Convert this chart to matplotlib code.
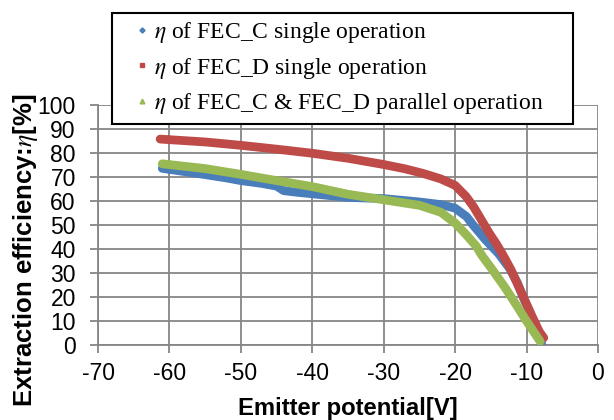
import matplotlib
matplotlib.use("Agg")
import matplotlib.pyplot as plt
from matplotlib.lines import Line2D
from matplotlib.patches import Rectangle

plt.rcParams['font.family'] = ['Liberation Sans', 'DejaVu Sans']
plt.rcParams['mathtext.fontset'] = 'stix'
plt.rcParams['axes.unicode_minus'] = False

# ---- data ----
v_c = [-61, -58, -55, -52, -50, -47, -45, -44, -42, -40, -35, -30, -25, -22, -20,
       -18.4, -17.5, -15.8, -13.9, -12.4, -11.3, -10.5, -9.6, -8.8, -8.1, -7.9]
eta_c = [73.6, 72.3, 71.0, 69.6, 68.5, 67.3, 66.2, 64.3, 63.6, 63.0, 61.5, 61.0, 59.6, 58.5, 57.0,
         53.5, 50.0, 44.0, 38.0, 32.0, 26.0, 20.0, 14.0, 8.0, 3.0, 1.0]

v_d = [-61.3, -55, -50, -45, -40, -35, -30, -27, -24.5, -22, -20, -18.5, -17.4, -16.4,
       -15.2, -14.2, -13.3, -12.2, -11.1, -10, -9, -8.2, -7.6]
eta_d = [85.8, 84.6, 83.2, 81.6, 79.9, 77.8, 75.2, 73.4, 71.5, 69.2, 66.5, 62.0, 57.5, 52.5,
         46.5, 42.0, 37.5, 31.5, 24.3, 17.0, 10.5, 5.5, 3.0]

v_cd = [-61, -55, -50, -45, -40, -35, -30, -25, -22, -20, -18.4, -17, -16.3, -14.7,
        -13.1, -11.5, -10.1, -9, -8.1]
eta_cd = [75.5, 73.5, 71.1, 68.5, 66.0, 62.8, 60.5, 58.2, 55.3, 50.8, 45.8, 41.0, 37.5, 31.0,
          24.3, 17.0, 10.4, 5.5, 1.5]

labels = [r"$\eta$ of FEC_C single operation",
          r"$\eta$ of FEC_D single operation",
          r"$\eta$ of FEC_C & FEC_D parallel operation"]
colors = ['#4a7ebb', '#be4b48', '#98b954']
markers = ['D', 's', '^']
msizes = [2.6, 3.2, 3.4]

x_ticks = list(range(-70, 1, 10))
y_ticks = list(range(0, 101, 10))

# ---- figure ----
W, H = 614, 420
fig = plt.figure(figsize=(W/100, H/100), dpi=100)
ax = fig.add_axes([98/W, 1-345/H, 500/W, 240/H])

grid_c = '#868686'
for vx, vy, c in zip([v_c, v_d, v_cd], [eta_c, eta_d, eta_cd], colors):
    ax.plot(vx, vy, color=c, lw=6.3, solid_capstyle='round', solid_joinstyle='round', zorder=3)

ax.set_xlim(-70, 0)
ax.set_ylim(0, 100)
ax.set_xticks(x_ticks)
ax.set_yticks(y_ticks)
ax.grid(True, color=grid_c, lw=1.3, zorder=1)
ax.set_axisbelow(True)
for s in ['top', 'right']:
    ax.spines[s].set_visible(False)
for s in ['left', 'bottom']:
    ax.spines[s].set_color(grid_c)
    ax.spines[s].set_linewidth(1.3)
ax.tick_params(axis='both', direction='out', length=6, width=1.3, color=grid_c,
               labelsize=16.5)
ax.tick_params(axis='x', pad=6.0)
ax.tick_params(axis='y', pad=10.0)

ax.set_xlabel("Emitter potential[V]", fontsize=17.2, fontweight='bold')
ax.xaxis.set_label_coords(0.5, (345-397)/240)
ax.set_ylabel(r"Extraction efficiency:$\eta$[%]", fontsize=18.5, fontweight='bold')
ax.yaxis.set_label_coords((40-98)/500, (345-250)/240)

# legend box
rect = Rectangle((112/W, 1-124/H), (573-112)/W, (124-13)/H, transform=fig.transFigure,
                 facecolor='white', edgecolor='black', lw=1.5, zorder=4)
fig.add_artist(rect)

handles = [Line2D([], [], ls='none', marker=m, color=c, markersize=ms)
           for m, c, ms in zip(markers, colors, msizes)]
leg = fig.legend(handles, labels, loc='upper left',
                 bbox_to_anchor=(128/W, 1-13/H),
                 prop={'family': 'Liberation Serif', 'size': 17},
                 frameon=False, handlelength=0.6, handletextpad=0.2,
                 labelspacing=0.45, borderpad=0.3, borderaxespad=0)
leg.set_zorder(5)

fig.savefig("out.png", dpi=100)
